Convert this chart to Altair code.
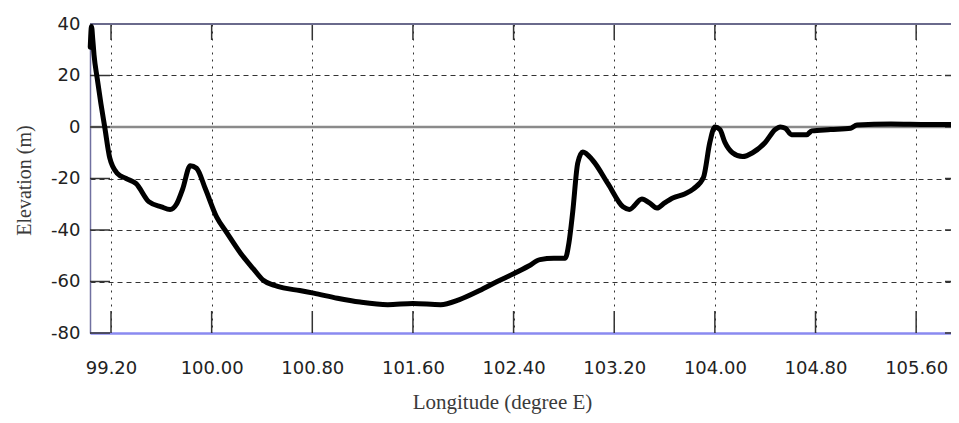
import altair as alt
import pandas as pd

# --- data ---
lon = [99.035, 99.045, 99.055, 99.065, 99.09, 99.12, 99.15, 99.19, 99.25, 99.32,
       99.40, 99.50, 99.60, 99.67, 99.72, 99.77, 99.83, 99.88, 99.95, 100.04,
       100.12, 100.23, 100.33, 100.41, 100.50, 100.57, 100.70, 100.81, 101.00, 101.18,
       101.40, 101.60, 101.82, 101.97, 102.13, 102.27, 102.40, 102.52, 102.61, 102.72,
       102.81, 102.84, 102.87, 102.91, 102.95, 103.03, 103.15, 103.27, 103.32, 103.42,
       103.48, 103.54, 103.60, 103.67, 103.76, 103.83, 103.91, 103.96, 104.00, 104.04,
       104.08, 104.14, 104.22, 104.30, 104.40, 104.48, 104.52, 104.56, 104.61, 104.73,
       104.77, 104.92, 105.08, 105.13, 105.40, 105.70, 105.88]
elev = [31, 39, 34, 28, 19, 9, 0, -12, -18, -20,
        -22, -29, -31, -32, -30, -24, -15, -16, -24, -35,
        -41, -49, -55, -59.5, -61.5, -62.5, -63.5, -64.5, -66.5, -68,
        -69, -68.5, -69, -67, -63.5, -60, -57, -54, -51.5, -51,
        -51, -45, -33, -14, -9.7, -13, -22, -31, -32, -28,
        -29.5, -31.5, -29.5, -27.5, -26, -24, -19.5, -6, 0, -1,
        -6, -10, -11.5, -10, -6, -1, 0, -0.5, -3, -3,
        -1.5, -1, -0.5, 0.8, 1.2, 1.0, 1.0]

x_ticks = [99.2, 100.0, 100.8, 101.6, 102.4, 103.2, 104.0, 104.8, 105.6]
y_ticks = [-80, -60, -40, -20, 0, 20, 40]
x_domain = [99.033, 105.877]
y_domain = [-80, 40]

W, H = 861, 309

df = pd.DataFrame({"lon": lon, "elev": elev})
xt = pd.DataFrame({"v": x_ticks})
yt = pd.DataFrame({"v": y_ticks})

xscale = alt.Scale(domain=x_domain, nice=False, zero=False)
yscale = alt.Scale(domain=y_domain, nice=False, zero=False)

label_font = "DejaVu Sans"
title_font = "Liberation Serif"

base_axes = alt.Chart(df).mark_line(opacity=0).encode(
    x=alt.X("lon:Q", scale=xscale,
            axis=alt.Axis(values=x_ticks, format=".2f", title="Longitude (degree E)",
                          grid=True, gridDash=[2, 5], gridColor="#333", gridWidth=1,
                          ticks=False, tickSize=0, labelPadding=26,
                          labelFont=label_font, labelFontSize=18, labelColor="#222",
                          domainColor="#8a8af0", domainWidth=2.5,
                          titleFont=title_font, titleFontSize=21, titleFontWeight="normal",
                          titleColor="#3a3a3a", titleX=412, titleY=75,
                          titleBaseline="alphabetic", titleAnchor="middle")),
    y=alt.Y("elev:Q", scale=yscale,
            axis=alt.Axis(values=y_ticks, labelExpr="'' + datum.value", title="Elevation (m)",
                          grid=True, gridDash=[5, 4], gridColor="#333", gridWidth=1,
                          ticks=False, tickSize=0, labelPadding=10,
                          labelFont=label_font, labelFontSize=18, labelColor="#222",
                          domainColor="#7070a0", domainWidth=1.5,
                          titleFont=title_font, titleFontSize=20, titleFontWeight="normal",
                          titleColor="#3a3a3a", titleX=-60, titleY=156,
                          titleBaseline="alphabetic", titleAngle=270)),
)

zero_line = alt.Chart(pd.DataFrame({"y": [0]})).mark_rule(color="#8a8a8a", strokeWidth=2.5).encode(
    y=alt.Y("y:Q", scale=yscale))

top_border = alt.Chart(pd.DataFrame({"y": [40]})).mark_rule(color="#6a6a8c", strokeWidth=2).encode(
    y=alt.Y("y:Q", scale=yscale))

xticks_bottom = alt.Chart(xt).mark_rule(color="#333", strokeWidth=1.5).encode(
    x=alt.X("v:Q", scale=xscale), y=alt.value(H), y2=alt.value(H - 22))
xticks_top = alt.Chart(xt).mark_rule(color="#333", strokeWidth=1.5).encode(
    x=alt.X("v:Q", scale=xscale), y=alt.value(0), y2=alt.value(16))
yticks_left = alt.Chart(yt).mark_rule(color="#333", strokeWidth=1.5).encode(
    y=alt.Y("v:Q", scale=yscale), x=alt.value(0), x2=alt.value(20))
yticks_right = alt.Chart(yt).mark_rule(color="#333", strokeWidth=1.5).encode(
    y=alt.Y("v:Q", scale=yscale), x=alt.value(W - 6), x2=alt.value(W))

profile = alt.Chart(df).mark_line(color="#000", strokeWidth=5, interpolate="monotone",
                                  strokeJoin="round", strokeCap="round").encode(
    x=alt.X("lon:Q", scale=xscale), y=alt.Y("elev:Q", scale=yscale))

chart = alt.layer(base_axes, zero_line, xticks_bottom, xticks_top, yticks_left,
                  yticks_right, top_border, profile).properties(
    width=W, height=H,
    autosize=alt.AutoSizeParams(type="none"),
    padding={"left": 82, "top": 16, "right": 0, "bottom": 82},
).configure_view(stroke=None).configure(background="white")

chart.save("out.html", embed_options={"renderer": "svg", "actions": False})
